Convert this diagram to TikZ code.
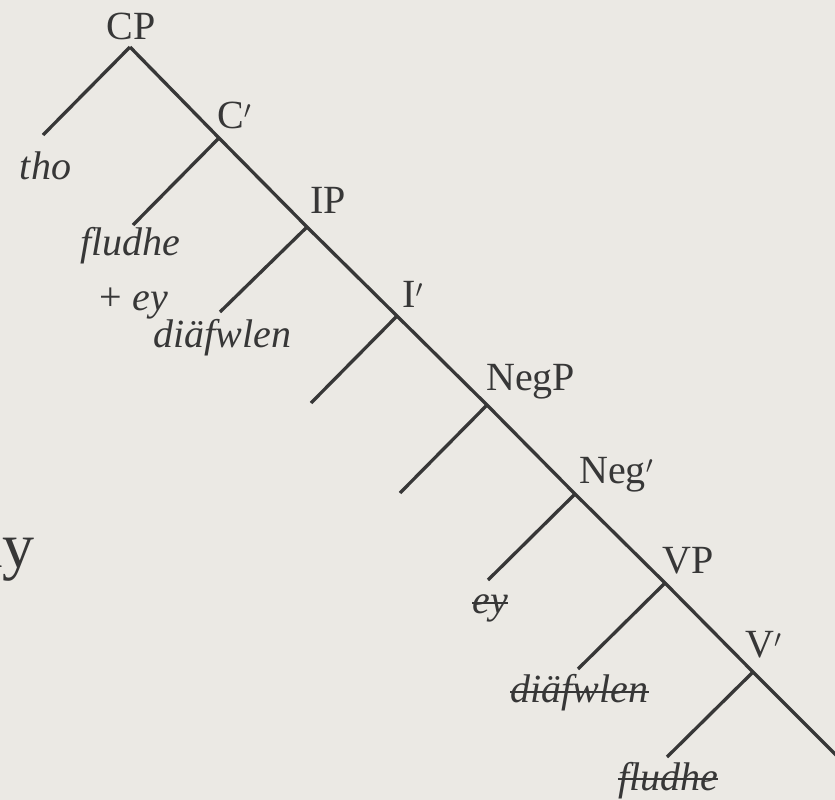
\documentclass[tikz,border=0pt]{standalone}
\usepackage{fontspec}
\setmainfont{Liberation Serif}
\definecolor{paper}{RGB}{235,233,228}
\definecolor{ink}{RGB}{55,55,55}
\tikzset{
  branch/.style={line width=3.3pt, draw=ink, line cap=butt},
  cat/.style={inner sep=0pt, text=ink, font=\fontsize{40}{42}\selectfont},
  leaf/.style={inner sep=0pt, text=ink, font=\fontsize{40}{42}\selectfont\itshape},
  strikeline/.style={line width=2pt, draw=ink},
}
\begin{document}
\begin{tikzpicture}[x=1pt,y=-1pt]
\fill[paper] (0,0) rectangle (835,800);
\useasboundingbox (0,0) rectangle (835,800);

% partial word at left edge (cut off in the reference as well)
\node[inner sep=0pt, text=ink, font=\fontsize{64}{66}\selectfont, anchor=base east] (ay) at (35,567) {ay};

% apex points
\coordinate (cp) at (130,47);
\coordinate (cb) at (219,138);
\coordinate (ip) at (307,227);
\coordinate (ib) at (397,316);
\coordinate (negp) at (487,405);
\coordinate (negb) at (575,494);
\coordinate (vp) at (665,583);
\coordinate (vb) at (753,672);
\coordinate (vend) at (845,764);

% leaf ends
\coordinate (l1) at (43,135);
\coordinate (l2) at (133,225);
\coordinate (l3) at (220,312);
\coordinate (l4) at (311,403);
\coordinate (l5) at (400,493);
\coordinate (l6) at (488,580);
\coordinate (l7) at (578,669);
\coordinate (l8) at (667,757);

% spine
\draw[branch] (cp) -- (cb) -- (ip) -- (ib) -- (negp) -- (negb) -- (vp) -- (vb) -- (vend);
% left branches
\draw[branch] (cp) -- (l1);
\draw[branch] (cb) -- (l2);
\draw[branch] (ip) -- (l3);
\draw[branch] (ib) -- (l4);
\draw[branch] (negp) -- (l5);
\draw[branch] (negb) -- (l6);
\draw[branch] (vp) -- (l7);
\draw[branch] (vb) -- (l8);

% category labels
\node[cat, anchor=base] (tcp) at (131,40) {CP};
\node[cat, anchor=base west] (tcb) at (217,128) {C$'$};
\node[cat, anchor=base west] (tip) at (310,213) {IP};
\node[cat, anchor=base west] (tib) at (402,307) {I$'$};
\node[cat, anchor=base west] (tnegp) at (486,390) {NegP};
\node[cat, anchor=base west] (tnegb) at (579,483) {Neg$'$};
\node[cat, anchor=base west] (tvp) at (662,573) {VP};
\node[cat, anchor=base west] (tvb) at (745,657) {V$'$};

% leaves
\node[leaf, anchor=base] (tho) at (45.5,179) {tho};
\node[leaf, anchor=base] (flu) at (130.5,255) {fludhe};
\node[leaf, anchor=base] (pey) at (134,310) {\upshape+ \itshape ey};
\node[leaf, anchor=base] (dia) at (222.5,347) {diäfwlen};
\node[leaf, anchor=base] (sey) at (490,613) {ey};
\node[leaf, anchor=base] (sdia) at (579.5,702) {diäfwlen};
\node[leaf, anchor=base] (sflu) at (668,790) {fludhe};

% strike-throughs
\draw[strikeline] ([yshift=10pt]sey.base west) -- ([yshift=10pt]sey.base east);
\draw[strikeline] ([yshift=10pt]sdia.base west) -- ([yshift=10pt]sdia.base east);
\draw[strikeline] ([yshift=11pt]sflu.base west) -- ([yshift=11pt]sflu.base east);
\end{tikzpicture}
\end{document}
